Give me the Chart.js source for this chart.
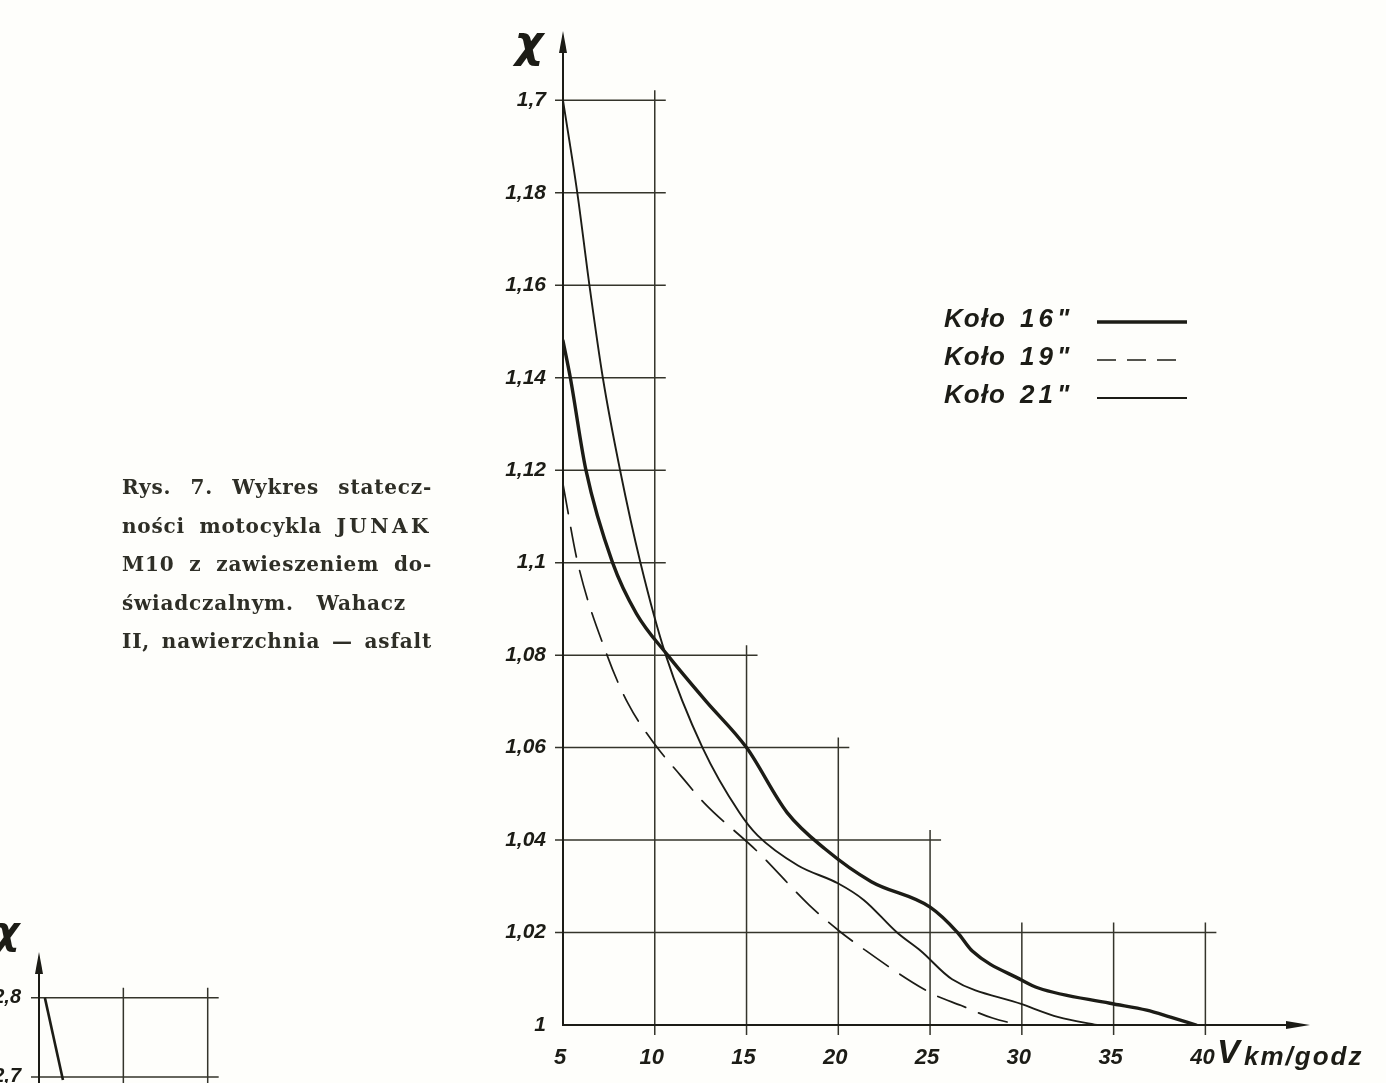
<!DOCTYPE html>
<html lang="pl">
<head>
<meta charset="utf-8">
<title>Rys. 7. Wykres stateczności motocykla JUNAK M10</title>
<script src="https://cdn.jsdelivr.net/npm/chart.js@4.4.1/dist/chart.umd.min.js"></script>
<style>
  html, body { margin: 0; padding: 0; width: 1386px; height: 1083px; overflow: hidden; background: #fefefb; }
  #main { position: absolute; left: 0; top: 0; }
  #small { position: absolute; left: 0; top: 900px; }
  .caption { position: absolute; left: 122px; top: 468px; font-family: 'DejaVu Serif', 'Liberation Serif', serif;
             font-size: 20px; font-weight: bold; letter-spacing: 0.8px; line-height: 38.5px; color: #2e2e26; }
  .caption div { width: 310px; text-align: justify; text-align-last: justify; }
  .caption div.short { width: 284px; }
  .spaced { letter-spacing: 3.5px; }
</style>
</head>
<body>
<canvas id="main" width="1386" height="1083"></canvas>
<canvas id="small" width="260" height="280"></canvas>
<div class="caption">
  <div>Rys. 7. Wykres statecz-</div>
  <div>ności motocykla <span class="spaced">JUNAK</span></div>
  <div>M10 z zawieszeniem do-</div>
  <div class="short">świadczalnym. Wahacz</div>
  <div>II, nawierzchnia — asfalt</div>
</div>
<script>
// ---------------------------------------------------------------
//  Data (V km/godz -> chi)
// ---------------------------------------------------------------
var xTicks = [5, 10, 15, 20, 25, 30, 35, 40];
var yTicks = [1, 1.02, 1.04, 1.06, 1.08, 1.1, 1.12, 1.14, 1.16, 1.18, 1.2];
var yTickLabels = ['1', '1,02', '1,04', '1,06', '1,08', '1,1', '1,12', '1,14', '1,16', '1,18', '1,7'];

// Koło 16" (thick solid)
var v16 = [5, 5.4, 6.25, 7.7, 9, 10.7, 12.8, 15, 17.2, 19.3, 21.8, 25, 26.5, 27.3, 30, 30.9, 34.8, 36.8, 38.1, 39.5];
var chi16 = [1.148, 1.14, 1.12, 1.10, 1.089, 1.08, 1.07, 1.06, 1.046, 1.038, 1.031, 1.0255, 1.02, 1.016, 1.0097, 1.008, 1.0047, 1.0032, 1.0017, 1.0];

// Koło 19" (dashed)
var v19 = [5, 5.8, 7.4, 8.55, 10, 11.4, 12.7, 15.6, 18.4, 20, 21, 25, 26.7, 28.4, 29.9];
var chi19 = [1.117, 1.10, 1.08, 1.0695, 1.0607, 1.054, 1.048, 1.0375, 1.026, 1.0205, 1.0175, 1.007, 1.0042, 1.0015, 1.0];

// Koło 21" (thin solid)
var v21 = [5, 5.78, 6.44, 7.17, 8.11, 9.22, 10.6, 12.6, 14.6, 15.6, 17.8, 20, 21.4, 23.2, 24.5, 26.2, 30, 32, 34.1];
var chi21 = [1.2, 1.18, 1.16, 1.14, 1.12, 1.10, 1.08, 1.06, 1.046, 1.041, 1.0345, 1.0306, 1.027, 1.02, 1.016, 1.0099, 1.0045, 1.0017, 1.0];

// stepped grid of the drawing: each row/column stops at its own length
var gridRowsY  = [1.02, 1.04, 1.06, 1.08, 1.1, 1.12, 1.14, 1.16, 1.18, 1.2];
var gridRowsTo = [40, 25, 20, 15, 10, 10, 10, 10, 10, 10];
var gridColsX  = [10, 15, 20, 25, 30, 35, 40];
var gridColsTo = [1.2, 1.08, 1.06, 1.04, 1.02, 1.02, 1.02];

// second figure, only its top edge is on the page
var smallV = [5.35, 6.42];
var smallChi = [2.8, 2.696];
var smallYTicks = [2.7, 2.8];
var smallYTickLabels = ['2,7', '2,8'];
var smallRowsY = [2.7, 2.8];
var smallRowsTo = [15, 15];
var smallColsX = [10, 15];
var smallColsTo = [2.8, 2.8];

// ---------------------------------------------------------------
//  Styling
// ---------------------------------------------------------------
var INK = '#1c1c16';
var GRID = '#34342b';
var HAND = "'Liberation Sans', 'DejaVu Sans', sans-serif";

function toPoints(xs, ys) {
    return xs.map(function (x, i) { return { x: x, y: ys[i] }; });
}

function drawArrow(ctx, x, y, dir) {
    // dir: 'up' or 'right'; (x, y) is the tip
    ctx.beginPath();
    if (dir === 'up') {
        ctx.moveTo(x, y); ctx.lineTo(x - 4, y + 22); ctx.lineTo(x + 4, y + 22);
    } else {
        ctx.moveTo(x, y); ctx.lineTo(x - 24, y - 4); ctx.lineTo(x - 24, y + 4);
    }
    ctx.closePath();
    ctx.fill();
}

var sketchPlugin = {
    id: 'sketch',
    beforeDatasetsDraw: function (chart, args, opts) {
        var ctx = chart.ctx, a = chart.chartArea;
        var xs = chart.scales.x, ys = chart.scales.y;
        var i, p;
        ctx.save();
        ctx.strokeStyle = GRID;
        ctx.lineWidth = 1.5;
        ctx.beginPath();
        for (i = 0; i < opts.rowsY.length; i++) {
            p = ys.getPixelForValue(opts.rowsY[i]);
            ctx.moveTo(a.left - 8, p);
            ctx.lineTo(xs.getPixelForValue(opts.rowsTo[i]) + 11, p);
        }
        for (i = 0; i < opts.colsX.length; i++) {
            p = xs.getPixelForValue(opts.colsX[i]);
            ctx.moveTo(p, a.bottom + 10);
            ctx.lineTo(p, ys.getPixelForValue(opts.colsTo[i]) - 10);
        }
        ctx.stroke();

        // axes with arrows
        ctx.strokeStyle = INK;
        ctx.fillStyle = INK;
        ctx.lineWidth = 2;
        ctx.beginPath();
        ctx.moveTo(a.left, opts.xAxis ? a.bottom + 1 : a.bottom + 200);
        ctx.lineTo(a.left, a.top + 12);
        if (opts.xAxis) {
            ctx.moveTo(a.left - 1, a.bottom);
            ctx.lineTo(a.right - 12, a.bottom);
        }
        ctx.stroke();
        drawArrow(ctx, a.left, a.top, 'up');
        if (opts.xAxis) drawArrow(ctx, a.right, a.bottom, 'right');

        // chi symbol above the axis
        ctx.font = 'italic bold ' + opts.chiSize + 'px ' + "'DejaVu Sans', sans-serif";
        ctx.textAlign = 'center';
        ctx.textBaseline = 'middle';
        ctx.fillText('\u03c7', a.left + opts.chiDx, a.top + opts.chiDy);
        ctx.restore();
    },
    afterDraw: function (chart, args, opts) {
        if (!opts.legend) return;
        var ctx = chart.ctx, a = chart.chartArea;
        var sets = chart.data.datasets;
        var hasSpacing = 'letterSpacing' in ctx;
        ctx.save();
        ctx.fillStyle = INK;
        ctx.strokeStyle = INK;
        ctx.textBaseline = 'middle';

        // V km/godz at the end of the x axis
        ctx.textAlign = 'left';
        ctx.font = 'italic bold 34px ' + HAND;
        ctx.fillText('V', a.right - 93, a.bottom + 29);
        ctx.font = 'italic bold 26px ' + HAND;
        if (hasSpacing) ctx.letterSpacing = '2px';
        ctx.fillText('km/godz', a.right - 66, a.bottom + 33);

        // hand drawn legend
        for (var i = 0; i < sets.length; i++) {
            var yc = 320 + i * 38;
            var parts = sets[i].label.split(' ');
            ctx.font = 'italic bold 26px ' + HAND;
            if (hasSpacing) ctx.letterSpacing = '1px';
            ctx.fillText(parts[0], 944, yc);
            if (hasSpacing) ctx.letterSpacing = '4px';
            ctx.fillText(parts[1], 1020, yc);
            ctx.lineWidth = sets[i].borderWidth;
            ctx.setLineDash(sets[i].borderDash ? [19, 11] : []);
            ctx.beginPath();
            ctx.moveTo(1097, yc + 2);
            ctx.lineTo(1187, yc + 2);
            ctx.stroke();
        }
        ctx.restore();
    }
};

// ---------------------------------------------------------------
//  Main figure
// ---------------------------------------------------------------
new Chart(document.getElementById('main'), {
    type: 'line',
    data: {
        datasets: [
            { label: 'Koło 16"', data: toPoints(v16, chi16), borderWidth: 3.4, borderColor: INK },
            { label: 'Koło 19"', data: toPoints(v19, chi19), borderWidth: 1.7, borderColor: INK, borderDash: [30, 14] },
            { label: 'Koło 21"', data: toPoints(v21, chi21), borderWidth: 1.9, borderColor: INK }
        ]
    },
    options: {
        responsive: false,
        animation: false,
        events: [],
        layout: { padding: { left: 503, top: 31, right: 76, bottom: 8 } },
        elements: {
            point: { radius: 0 },
            line: { tension: 0.4, cubicInterpolationMode: 'monotone', borderCapStyle: 'round' }
        },
        scales: {
            x: {
                type: 'linear', min: 5, max: 45.7,
                afterBuildTicks: function (s) { s.ticks = xTicks.map(function (v) { return { value: v }; }); },
                afterFit: function (s) { s.height = 50; },
                grid: { display: false }, border: { display: false },
                ticks: { padding: 12, labelOffset: -3, color: INK, maxRotation: 0,
                         font: { family: HAND, style: 'italic', weight: 'bold', size: 22 } }
            },
            y: {
                type: 'linear', min: 1, max: 1.215,
                afterBuildTicks: function (s) { s.ticks = yTicks.map(function (v) { return { value: v }; }); },
                afterFit: function (s) { s.width = 60; },
                grid: { display: false }, border: { display: false },
                ticks: {
                    padding: 9, color: INK,
                    font: { family: HAND, style: 'italic', weight: 'bold', size: 21 },
                    callback: function (v) { return yTickLabels[yTicks.indexOf(v)]; }
                }
            }
        },
        plugins: {
            legend: { display: false },
            tooltip: { enabled: false },
            sketch: { rowsY: gridRowsY, rowsTo: gridRowsTo, colsX: gridColsX, colsTo: gridColsTo,
                      xAxis: true, legend: true, chiSize: 44, chiDx: -34, chiDy: 15 }
        }
    },
    plugins: [sketchPlugin]
});

// ---------------------------------------------------------------
//  Fragment of the next figure (bottom left)
// ---------------------------------------------------------------
new Chart(document.getElementById('small'), {
    type: 'line',
    data: { datasets: [{ label: 'fragment', data: toPoints(smallV, smallChi), borderWidth: 2.6, borderColor: INK }] },
    options: {
        responsive: false,
        animation: false,
        events: [],
        layout: { padding: { left: 0, top: 52, right: 0, bottom: 24 } },
        elements: { point: { radius: 0 }, line: { tension: 0 } },
        scales: {
            x: { type: 'linear', min: 5, max: 18.1, display: false },
            y: {
                type: 'linear', min: 2.6, max: 2.858,
                afterBuildTicks: function (s) { s.ticks = smallYTicks.map(function (v) { return { value: v }; }); },
                afterFit: function (s) { s.width = 39; },
                grid: { display: false }, border: { display: false },
                ticks: {
                    padding: 10, color: INK,
                    font: { family: HAND, style: 'italic', weight: 'bold', size: 20 },
                    callback: function (v) { return smallYTickLabels[smallYTicks.indexOf(v)]; }
                }
            }
        },
        plugins: {
            legend: { display: false },
            tooltip: { enabled: false },
            sketch: { rowsY: smallRowsY, rowsTo: smallRowsTo, colsX: smallColsX, colsTo: smallColsTo,
                      xAxis: false, legend: false, chiSize: 38, chiDx: -32, chiDy: -18 }
        }
    },
    plugins: [sketchPlugin]
});
</script>
</body>
</html>
